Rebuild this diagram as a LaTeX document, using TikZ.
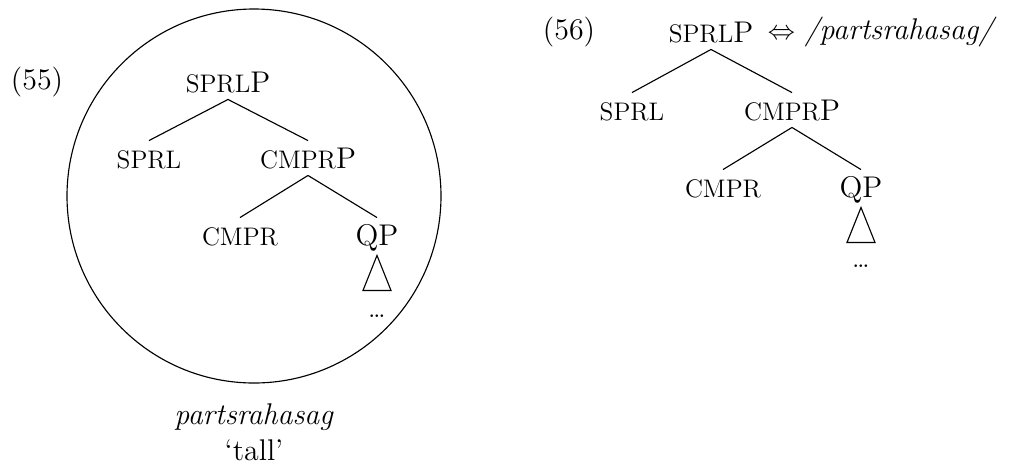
\documentclass[tikz,border=0pt]{standalone}
\usepackage{amsmath}
\usetikzlibrary{positioning}
\newcommand{\smcap}[1]{{\fontsize{11.2}{13}\selectfont #1}}

\begin{document}
\begin{tikzpicture}[
    x=0.0155cm, y=-0.0155cm,
    font=\fontsize{13.2}{16}\selectfont,
    cat/.style={inner xsep=1pt, inner ysep=3pt, text height=9pt, text depth=0pt},
    num/.style={inner sep=0pt},
    branch/.style={line width=0.5pt},
    gloss/.style={inner sep=0pt, align=center}
]
\useasboundingbox (0,0) rectangle (1013,465);
% --- Ejemplo (55) ---
\node[num] (ex55) at (37,82) {(55)};
\draw[line width=0.5pt] (254,196) circle [radius=187];
\node[cat] (a-sprlp) at (228,82) {\smcap{SPRL}P};
\node[cat] (a-sprl) at (149,158) {\smcap{SPRL}};
\node[cat] (a-cmprp) at (308,158) {\smcap{CMPR}P};
\node[cat] (a-cmpr) at (240,235) {\smcap{CMPR}};
\node[cat] (a-qp) at (377,235) {QP};
\draw[branch] (a-qp.south) ++(0,3) -- ++(-14,35) -- ++(28,0) -- cycle;
\node[num] (a-dots) at (377,316) {\large\dots};
\foreach \a/\b in {a-sprlp/a-sprl, a-sprlp/a-cmprp, a-cmprp/a-cmpr, a-cmprp/a-qp}
    \draw[branch] (\a.south) -- (\b.north);
\node[gloss] (a-form) at (254,432) {\textit{partsrahasag}\\`tall'};
% --- Ejemplo (56) ---
\node[num] (ex56) at (569,32) {(56)};
\node[cat] (b-sprlp) at (711,32) {\smcap{SPRL}P};
\node[num, right=5pt of b-sprlp] (b-form) {$\Leftrightarrow$ \textit{/partsrahasag/}};
\node[cat] (b-sprl) at (632,110) {\smcap{SPRL}};
\node[cat] (b-cmprp) at (792,110) {\smcap{CMPR}P};
\node[cat] (b-cmpr) at (723,187) {\smcap{CMPR}};
\node[cat] (b-qp) at (861,187) {QP};
\draw[branch] (b-qp.south) ++(0,3) -- ++(-14,35) -- ++(28,0) -- cycle;
\node[num] (b-dots) at (861,266) {\large\dots};
\foreach \a/\b in {b-sprlp/b-sprl, b-sprlp/b-cmprp, b-cmprp/b-cmpr, b-cmprp/b-qp}
    \draw[branch] (\a.south) -- (\b.north);
\end{tikzpicture}
\end{document}
